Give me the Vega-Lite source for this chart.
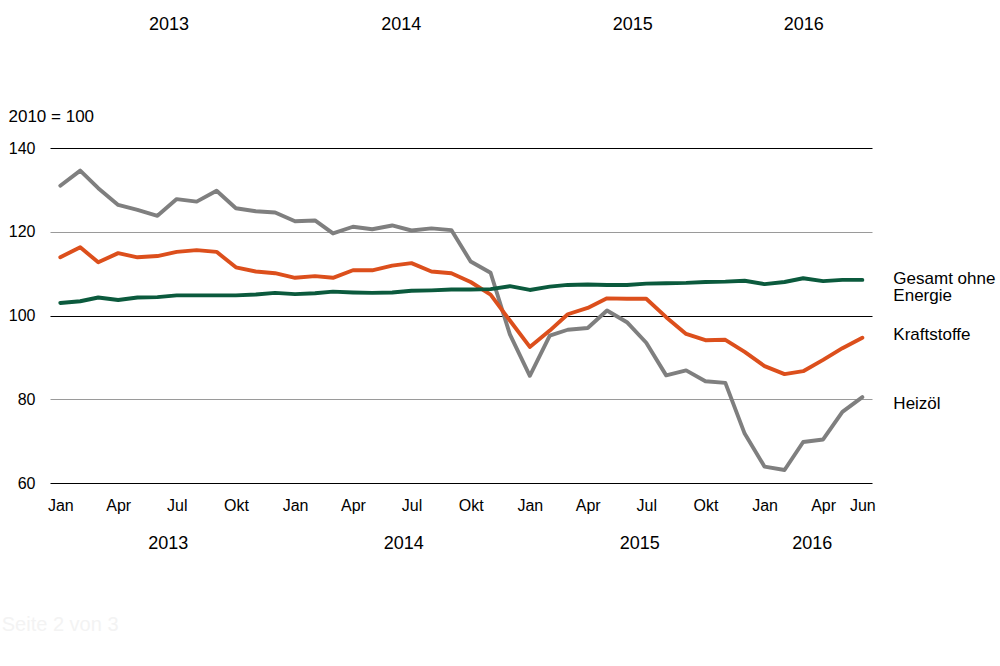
{
  "$schema": "https://vega.github.io/schema/vega-lite/v6.json",
  "width": 822,
  "height": 335,
  "autosize": {"type": "none"},
  "padding": {"left": 50, "top": 148, "right": 128, "bottom": 183},
  "background": "white",
  "config": {"view": {"stroke": null}, "font": "Liberation Sans"},
  "layer": [
    {
      "data": {
        "values": [
          {"date": "2013-01", "Heizöl": 131.0, "Kraftstoffe": 113.9, "Gesamt ohne Energie": 103.0},
          {"date": "2013-02", "Heizöl": 134.6, "Kraftstoffe": 116.3, "Gesamt ohne Energie": 103.4},
          {"date": "2013-03", "Heizöl": 130.4, "Kraftstoffe": 112.7, "Gesamt ohne Energie": 104.3},
          {"date": "2013-04", "Heizöl": 126.4, "Kraftstoffe": 114.9, "Gesamt ohne Energie": 103.7},
          {"date": "2013-05", "Heizöl": 125.2, "Kraftstoffe": 113.9, "Gesamt ohne Energie": 104.3},
          {"date": "2013-06", "Heizöl": 123.8, "Kraftstoffe": 114.2, "Gesamt ohne Energie": 104.4},
          {"date": "2013-07", "Heizöl": 127.8, "Kraftstoffe": 115.2, "Gesamt ohne Energie": 104.8},
          {"date": "2013-08", "Heizöl": 127.2, "Kraftstoffe": 115.6, "Gesamt ohne Energie": 104.8},
          {"date": "2013-09", "Heizöl": 129.8, "Kraftstoffe": 115.2, "Gesamt ohne Energie": 104.8},
          {"date": "2013-10", "Heizöl": 125.6, "Kraftstoffe": 111.5, "Gesamt ohne Energie": 104.8},
          {"date": "2013-11", "Heizöl": 124.9, "Kraftstoffe": 110.5, "Gesamt ohne Energie": 105.0},
          {"date": "2013-12", "Heizöl": 124.6, "Kraftstoffe": 110.1, "Gesamt ohne Energie": 105.4},
          {"date": "2014-01", "Heizöl": 122.5, "Kraftstoffe": 109.0, "Gesamt ohne Energie": 105.1},
          {"date": "2014-02", "Heizöl": 122.7, "Kraftstoffe": 109.4, "Gesamt ohne Energie": 105.3},
          {"date": "2014-03", "Heizöl": 119.6, "Kraftstoffe": 109.0, "Gesamt ohne Energie": 105.7},
          {"date": "2014-04", "Heizöl": 121.2, "Kraftstoffe": 110.8, "Gesamt ohne Energie": 105.5},
          {"date": "2014-05", "Heizöl": 120.6, "Kraftstoffe": 110.8, "Gesamt ohne Energie": 105.4},
          {"date": "2014-06", "Heizöl": 121.5, "Kraftstoffe": 111.9, "Gesamt ohne Energie": 105.5},
          {"date": "2014-07", "Heizöl": 120.3, "Kraftstoffe": 112.5, "Gesamt ohne Energie": 105.9},
          {"date": "2014-08", "Heizöl": 120.8, "Kraftstoffe": 110.5, "Gesamt ohne Energie": 106.0},
          {"date": "2014-09", "Heizöl": 120.4, "Kraftstoffe": 110.1, "Gesamt ohne Energie": 106.2},
          {"date": "2014-10", "Heizöl": 112.9, "Kraftstoffe": 108.0, "Gesamt ohne Energie": 106.2},
          {"date": "2014-11", "Heizöl": 110.2, "Kraftstoffe": 105.0, "Gesamt ohne Energie": 106.3},
          {"date": "2014-12", "Heizöl": 95.5, "Kraftstoffe": 98.8, "Gesamt ohne Energie": 107.0},
          {"date": "2015-01", "Heizöl": 85.6, "Kraftstoffe": 92.5, "Gesamt ohne Energie": 106.1},
          {"date": "2015-02", "Heizöl": 95.2, "Kraftstoffe": 96.4, "Gesamt ohne Energie": 106.9},
          {"date": "2015-03", "Heizöl": 96.6, "Kraftstoffe": 100.3, "Gesamt ohne Energie": 107.3},
          {"date": "2015-04", "Heizöl": 97.0, "Kraftstoffe": 101.8, "Gesamt ohne Energie": 107.4},
          {"date": "2015-05", "Heizöl": 101.2, "Kraftstoffe": 104.1, "Gesamt ohne Energie": 107.3},
          {"date": "2015-06", "Heizöl": 98.4, "Kraftstoffe": 104.0, "Gesamt ohne Energie": 107.3},
          {"date": "2015-07", "Heizöl": 93.5, "Kraftstoffe": 104.0, "Gesamt ohne Energie": 107.6},
          {"date": "2015-08", "Heizöl": 85.7, "Kraftstoffe": 99.6, "Gesamt ohne Energie": 107.7},
          {"date": "2015-09", "Heizöl": 86.9, "Kraftstoffe": 95.6, "Gesamt ohne Energie": 107.8},
          {"date": "2015-10", "Heizöl": 84.3, "Kraftstoffe": 94.1, "Gesamt ohne Energie": 108.0},
          {"date": "2015-11", "Heizöl": 83.9, "Kraftstoffe": 94.2, "Gesamt ohne Energie": 108.1},
          {"date": "2015-12", "Heizöl": 71.8, "Kraftstoffe": 91.3, "Gesamt ohne Energie": 108.3},
          {"date": "2016-01", "Heizöl": 63.9, "Kraftstoffe": 87.9, "Gesamt ohne Energie": 107.5},
          {"date": "2016-02", "Heizöl": 63.1, "Kraftstoffe": 86.0, "Gesamt ohne Energie": 108.0},
          {"date": "2016-03", "Heizöl": 69.8, "Kraftstoffe": 86.7, "Gesamt ohne Energie": 108.9},
          {"date": "2016-04", "Heizöl": 70.4, "Kraftstoffe": 89.4, "Gesamt ohne Energie": 108.2},
          {"date": "2016-05", "Heizöl": 77.0, "Kraftstoffe": 92.2, "Gesamt ohne Energie": 108.5},
          {"date": "2016-06", "Heizöl": 80.5, "Kraftstoffe": 94.7, "Gesamt ohne Energie": 108.5}
        ],
        "format": {"parse": {"date": "date:'%Y-%m'"}}
      },
      "transform": [
        {"fold": ["Heizöl", "Kraftstoffe", "Gesamt ohne Energie"], "as": ["series", "value"]}
      ],
      "mark": {"type": "line", "strokeWidth": 3.9, "strokeJoin": "round", "strokeCap": "round"},
      "encoding": {
        "x": {
          "field": "date",
          "type": "temporal",
          "scale": {"domain": [{"year": 2012, "month": 12, "date": 16}, {"year": 2016, "month": 6, "date": 16}]},
          "axis": {
            "title": null,
            "grid": false,
            "domain": false,
            "ticks": false,
            "tickSize": 0,
            "labelPadding": 14,
            "labelFontSize": 16,
            "labelColor": "#000000",
            "labelFont": "Liberation Sans",
            "labelOverlap": false,
            "labelFlush": false,
            "values": [
              {"year": 2013, "month": 1, "date": 1}, {"year": 2013, "month": 4, "date": 1},
              {"year": 2013, "month": 7, "date": 1}, {"year": 2013, "month": 10, "date": 1},
              {"year": 2014, "month": 1, "date": 1}, {"year": 2014, "month": 4, "date": 1},
              {"year": 2014, "month": 7, "date": 1}, {"year": 2014, "month": 10, "date": 1},
              {"year": 2015, "month": 1, "date": 1}, {"year": 2015, "month": 4, "date": 1},
              {"year": 2015, "month": 7, "date": 1}, {"year": 2015, "month": 10, "date": 1},
              {"year": 2016, "month": 1, "date": 1}, {"year": 2016, "month": 4, "date": 1},
              {"year": 2016, "month": 6, "date": 1}
            ],
            "labelExpr": "['Jan','Feb','Mär','Apr','Mai','Jun','Jul','Aug','Sep','Okt','Nov','Dez'][month(datum.value)]"
          }
        },
        "y": {
          "field": "value",
          "type": "quantitative",
          "scale": {"domain": [60, 140], "nice": false, "zero": false},
          "axis": {
            "title": "2010 = 100",
            "titleAngle": 0,
            "titleAlign": "left",
            "titleBaseline": "alphabetic",
            "titleX": -42,
            "titleY": -27,
            "titleFontSize": 17,
            "titleFontWeight": "normal",
            "titleFont": "Liberation Sans",
            "titleColor": "#000000",
            "values": [60, 80, 100, 120, 140],
            "grid": true,
            "gridWidth": 1,
            "gridColor": {"condition": {"test": "datum.value === 80 || datum.value === 120", "value": "#9a9a9a"}, "value": "#000000"},
            "domain": false,
            "ticks": false,
            "tickSize": 0,
            "labelPadding": 15,
            "labelFontSize": 16,
            "labelFont": "Liberation Sans",
            "labelColor": "#000000"
          }
        },
        "color": {
          "field": "series",
          "type": "nominal",
          "scale": {"domain": ["Heizöl", "Kraftstoffe", "Gesamt ohne Energie"], "range": ["#7f7f7f", "#dc4f1c", "#0b5a3d"]},
          "legend": null
        }
      }
    },
    {
      "data": {
        "values": [
          {"year": "2013", "date": "2013-06-18"},
          {"year": "2014", "date": "2014-06-19"},
          {"year": "2015", "date": "2015-06-21"},
          {"year": "2016", "date": "2016-03-15"}
        ],
        "format": {"parse": {"date": "date:'%Y-%m-%d'"}}
      },
      "mark": {"type": "text", "fontSize": 18, "align": "center", "baseline": "middle", "color": "#000000"},
      "encoding": {
        "x": {"field": "date", "type": "temporal", "title": null},
        "y": {"datum": 45.36, "type": "quantitative"},
        "text": {"field": "year", "type": "nominal"}
      }
    },
    {
      "data": {
        "values": [
          {"year": "2013", "date": "2013-06-19"},
          {"year": "2014", "date": "2014-06-15"},
          {"year": "2015", "date": "2015-06-10"},
          {"year": "2016", "date": "2016-03-02"}
        ],
        "format": {"parse": {"date": "date:'%Y-%m-%d'"}}
      },
      "mark": {"type": "text", "fontSize": 18, "align": "center", "baseline": "middle", "color": "#000000"},
      "encoding": {
        "x": {"field": "date", "type": "temporal", "title": null},
        "y": {"datum": 169.3, "type": "quantitative"},
        "text": {"field": "year", "type": "nominal"}
      }
    },
    {
      "data": {"values": [{"label": "Gesamt ohne"}]},
      "mark": {"type": "text", "fontSize": 17, "align": "left", "baseline": "alphabetic", "dx": 31, "color": "#000000"},
      "encoding": {
        "x": {"datum": {"year": 2016, "month": 6, "date": 1}, "type": "temporal"},
        "y": {"datum": 107.62, "type": "quantitative"},
        "text": {"field": "label", "type": "nominal"}
      }
    },
    {
      "data": {"values": [{"label": "Energie"}]},
      "mark": {"type": "text", "fontSize": 17, "align": "left", "baseline": "alphabetic", "dx": 31, "color": "#000000"},
      "encoding": {
        "x": {"datum": {"year": 2016, "month": 6, "date": 1}, "type": "temporal"},
        "y": {"datum": 103.46, "type": "quantitative"},
        "text": {"field": "label", "type": "nominal"}
      }
    },
    {
      "data": {"values": [{"label": "Kraftstoffe"}]},
      "mark": {"type": "text", "fontSize": 17, "align": "left", "baseline": "alphabetic", "dx": 31, "color": "#000000"},
      "encoding": {
        "x": {"datum": {"year": 2016, "month": 6, "date": 1}, "type": "temporal"},
        "y": {"datum": 94.08, "type": "quantitative"},
        "text": {"field": "label", "type": "nominal"}
      }
    },
    {
      "data": {"values": [{"label": "Heizöl"}]},
      "mark": {"type": "text", "fontSize": 17, "align": "left", "baseline": "alphabetic", "dx": 31, "color": "#000000"},
      "encoding": {
        "x": {"datum": {"year": 2016, "month": 6, "date": 1}, "type": "temporal"},
        "y": {"datum": 77.77, "type": "quantitative"},
        "text": {"field": "label", "type": "nominal"}
      }
    },
    {
      "data": {"values": [{"label": "Seite 2 von 3"}]},
      "mark": {"type": "text", "fontSize": 20, "align": "left", "baseline": "middle", "color": "#f3f3f3"},
      "encoding": {
        "x": {"datum": {"year": 2012, "month": 10, "date": 2}, "type": "temporal"},
        "y": {"datum": 26.0, "type": "quantitative"},
        "text": {"field": "label", "type": "nominal"}
      }
    }
  ]
}
